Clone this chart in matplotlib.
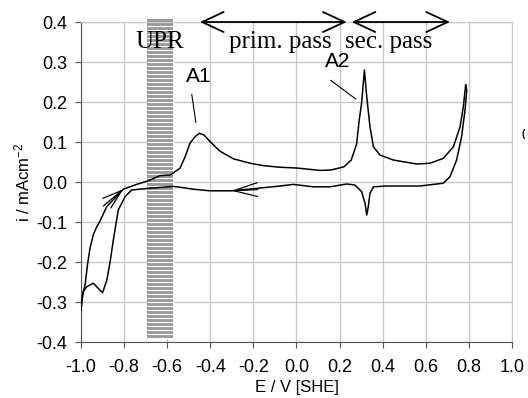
import numpy as np
import matplotlib
matplotlib.use("Agg")
import matplotlib.pyplot as plt

plt.rcParams['font.family'] = ['Liberation Sans', 'DejaVu Sans']
plt.rcParams['mathtext.default'] = 'regular'
plt.rcParams['axes.unicode_minus'] = False

# anodic (forward) scan, E / V and i / mAcm-2
e_fwd = [-1.0, -0.992, -0.981, -0.97, -0.958, -0.943, -0.927, -0.912, -0.881,
         -0.804, -0.742, -0.688, -0.633, -0.587, -0.572, -0.564, -0.541, -0.517,
         -0.494, -0.471, -0.451, -0.429, -0.401, -0.355, -0.293, -0.216, -0.154,
         -0.08, 0.0, 0.109, 0.16, 0.22, 0.254, 0.279, 0.291, 0.302, 0.31, 0.315,
         0.32, 0.326, 0.341, 0.357, 0.387, 0.449, 0.558, 0.62, 0.681, 0.728,
         0.759, 0.774, 0.785]
i_fwd = [-0.32, -0.28, -0.257, -0.207, -0.165, -0.132, -0.112, -0.098, -0.062,
         -0.018, -0.006, 0.003, 0.016, 0.0175, 0.022, 0.026, 0.034, 0.063,
         0.097, 0.113, 0.122, 0.1175, 0.101, 0.077, 0.058, 0.047, 0.041,
         0.037, 0.035, 0.029, 0.030, 0.038, 0.055, 0.095, 0.155, 0.197, 0.247, 0.28,
         0.25, 0.213, 0.138, 0.088, 0.0675, 0.055, 0.045, 0.047, 0.059, 0.088,
         0.138, 0.188, 0.2425]

# cathodic (reverse) scan
e_rev = [0.785, 0.79, 0.782, 0.766, 0.743, 0.712, 0.681, 0.573, 0.418, 0.357,
         0.341, 0.333, 0.326, 0.318, 0.302, 0.271, 0.233, 0.155, 0.078, -0.015,
         -0.077, -0.185, -0.301, -0.401, -0.479, -0.541, -0.572, -0.688, -0.765,
         -0.796, -0.827, -0.85, -0.865, -0.88, -0.9, -0.943, -0.974, -0.989,
         -0.997, -1.0]
i_rev = [0.2425, 0.23, 0.18, 0.113, 0.055, 0.013, -0.003, -0.01, -0.01, -0.012,
         -0.028, -0.062, -0.0825, -0.053, -0.024, -0.0075, -0.005, -0.012, -0.012,
         -0.006, -0.01, -0.016, -0.022, -0.022, -0.018, -0.013, -0.011, -0.016,
         -0.02, -0.037, -0.07, -0.145, -0.20, -0.245, -0.277, -0.253, -0.262,
         -0.274, -0.30, -0.32]

upr = (-0.695, -0.575)
prim_pass = (-0.448, 0.233)
sec_pass = (0.256, 0.712)

xticks = np.round(np.arange(-1.0, 1.01, 0.2), 1) + 0.0
yticks = np.round(np.arange(-0.4, 0.41, 0.1), 1) + 0.0

fig = plt.figure(figsize=(5.28, 3.98), dpi=100)
ax = fig.add_axes([0.1534, 0.1407, 0.8163, 0.804])

# UPR band: grey with white stripes
ax.fill_betweenx([-0.393, 0.407], upr[0], upr[1], color='#9a9a9a', lw=0,
                 zorder=2, clip_on=False)
ax.hlines(np.arange(-0.391, 0.407, 0.01), upr[0], upr[1], color='white',
          lw=0.8, zorder=2.1, clip_on=False)

ax.plot(e_fwd, i_fwd, color='black', lw=1.1, zorder=3)
ax.plot(e_rev, i_rev, color='black', lw=1.1, zorder=3)

# scan direction arrows
ax.annotate('', xy=(-0.804, -0.018), xytext=(-0.896, -0.06),
            arrowprops=dict(arrowstyle='->,head_length=1.4,head_width=0.45',
                            color='black', lw=0.9, shrinkA=0, shrinkB=0))
ax.annotate('', xy=(-0.301, -0.022), xytext=(-0.18, -0.019),
            arrowprops=dict(arrowstyle='->,head_length=1.7,head_width=0.5',
                            color='black', lw=0.9, shrinkA=0, shrinkB=0))

# passive range arrows
for a, b in [prim_pass, sec_pass]:
    ax.annotate('', xy=(b, 0.4), xytext=(a, 0.4), annotation_clip=False,
                arrowprops=dict(arrowstyle='<->,head_length=1.55,head_width=0.72',
                                color='black', lw=1.3, shrinkA=0, shrinkB=0))

ax.text(-0.635, 0.35, 'UPR', family='Liberation Serif', fontsize=18,
        ha='center', va='center', zorder=4)
ax.text(-0.077, 0.35, 'prim. pass', family='Liberation Serif', fontsize=18,
        ha='center', va='center')
ax.text(0.429, 0.35, 'sec. pass', family='Liberation Serif', fontsize=18,
        ha='center', va='center')

ax.text(-0.454, 0.263, 'A1', fontsize=15, ha='center', va='center')
ax.plot([-0.486, -0.467], [0.219, 0.149], color='black', lw=0.8)
ax.text(0.19, 0.302, 'A2', fontsize=15, ha='center', va='center')
ax.plot([0.159, 0.275], [0.254, 0.2075], color='black', lw=0.8)

ax.set_xlim(-1.0, 1.0)
ax.set_ylim(-0.4, 0.4)
ax.set_xticks(xticks)
ax.set_yticks(yticks)
ax.set_xticklabels(['%.1f' % v for v in xticks])
ax.set_yticklabels(['%.1f' % v for v in yticks])
ax.grid(True, color='#c8c8c8', lw=1.0)
ax.set_axisbelow(True)
ax.tick_params(direction='out', length=4, width=0.8, color='#555555',
               labelsize=13)
ax.tick_params(axis='x', pad=8)
ax.tick_params(axis='y', pad=6)
for s in ['left', 'bottom']:
    ax.spines[s].set_color('#555555')
for s in ['top', 'right']:
    ax.spines[s].set_color('#c8c8c8')

ax.set_xlabel('E / V [SHE]', fontsize=12, labelpad=3)
ax.set_ylabel('i / mAcm$^{-2}$', fontsize=12, labelpad=3)

fig.text(523 / 528, 1 - 134 / 398, '(', fontsize=7, fontweight='bold',
         ha='center', va='center')

fig.savefig('out.png', dpi=100)
